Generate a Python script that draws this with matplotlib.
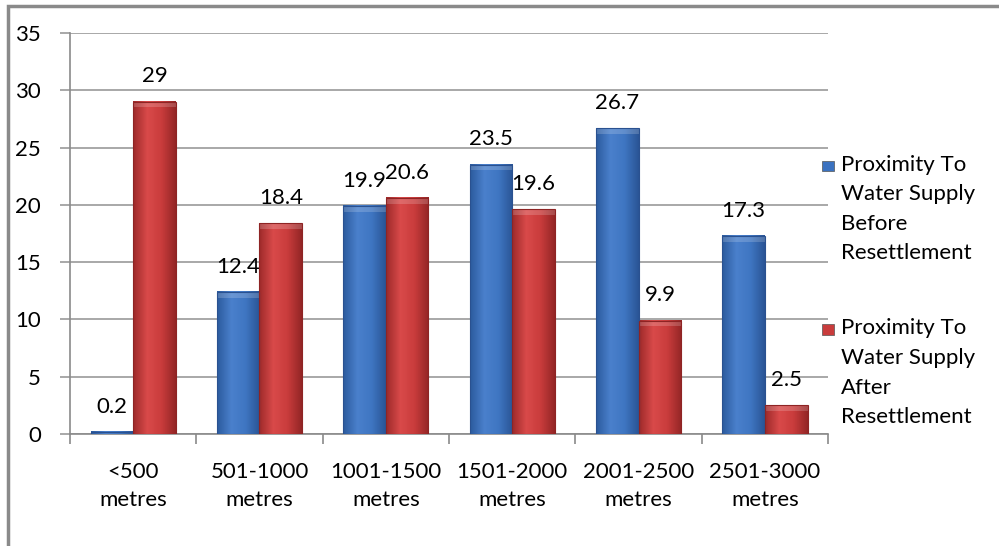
import numpy as np
import matplotlib.pyplot as plt
from matplotlib.colors import LinearSegmentedColormap
from matplotlib.patches import Rectangle

plt.rcParams['font.family'] = ['Lato', 'DejaVu Sans']

categories = ['<500\nmetres', '501-1000\nmetres', '1001-1500\nmetres',
              '1501-2000\nmetres', '2001-2500\nmetres', '2501-3000\nmetres']
before = [0.2, 12.4, 19.9, 23.5, 26.7, 17.3]
after = [29, 18.4, 20.6, 19.6, 9.9, 2.5]
series_names = ['Proximity To\nWater Supply\nBefore\nResettlement',
                'Proximity To\nWater Supply\nAfter\nResettlement']

blue_cmap = LinearSegmentedColormap.from_list('b', ['#2c5b9e', '#4a80cc', '#3f76c2', '#2a5596'])
red_cmap = LinearSegmentedColormap.from_list('r', ['#9e2a2a', '#d94a4a', '#c93c3c', '#942626'])
grad = np.linspace(0, 1, 64).reshape(1, -1)

fig = plt.figure(figsize=(9.99, 5.46), dpi=100)
ax = fig.add_axes([0.070, 0.205, 0.759, 0.7346])

width = 0.337
x = np.arange(len(categories))


def gradient_bar(xc, h, cmap, edge):
    x0, x1 = xc - width / 2, xc + width / 2
    ax.imshow(grad, extent=[x0, x1, 0, h], aspect='auto', cmap=cmap,
              interpolation='bilinear', zorder=3)
    # lighter bevel along the top of the bar
    bev = min(0.5, h * 0.3)
    ax.add_patch(Rectangle((x0, h - bev), width, bev, facecolor='white',
                           alpha=0.18, edgecolor='none', zorder=4))
    ax.add_patch(Rectangle((x0, 0), width, h, facecolor='none',
                           edgecolor=edge, linewidth=0.8, zorder=5))


for i in range(len(categories)):
    gradient_bar(x[i] - width / 2, before[i], blue_cmap, '#2a5190')
    gradient_bar(x[i] + width / 2, after[i], red_cmap, '#8e2424')
    ax.annotate(f'{before[i]:g}', (x[i] - width / 2, before[i]), xytext=(0, 11),
                textcoords='offset points', ha='center', va='bottom', fontsize=16)
    ax.annotate(f'{after[i]:g}', (x[i] + width / 2, after[i]), xytext=(0, 11),
                textcoords='offset points', ha='center', va='bottom', fontsize=16)

ax.set_xlim(-0.5, len(categories) - 0.5)
ax.set_ylim(0, 35)
ax.set_yticks(range(0, 36, 5))
ax.yaxis.grid(True, color='#9a9a9a', linewidth=1.2)
ax.set_axisbelow(True)

ax.set_xticks(x)
ax.set_xticklabels(categories, fontsize=16, linespacing=1.5)
ax.set_xticks(np.arange(-0.5, len(categories)), minor=True)
ax.tick_params(axis='x', which='major', length=0, pad=20)
ax.tick_params(axis='x', which='minor', length=7, color='#8a8a8a', width=1.2)
ax.tick_params(axis='y', length=7, color='#9a9a9a', width=1.2, pad=14, labelsize=16)

for s in ['top', 'right']:
    ax.spines[s].set_visible(False)
for s in ['left', 'bottom']:
    ax.spines[s].set_color('#8a8a8a')
    ax.spines[s].set_linewidth(1.2)

# legend drawn by hand so the marker sits beside the first line
legend_colors = ['#3b72c0', '#c93c3c']
legend_tops = [0.717, 0.417]
for name, col, top in zip(series_names, legend_colors, legend_tops):
    fig.add_artist(Rectangle((0.8225, top - 0.03), 0.012, 0.019,
                             transform=fig.transFigure, facecolor=col,
                             edgecolor='#555555', linewidth=0.5))
    fig.text(0.842, top, name, fontsize=16, va='top', ha='left', linespacing=1.6)

# outer frame of the chart area
fig.add_artist(Rectangle((0.008, -0.05), 1.05, 1.039, transform=fig.transFigure,
                         facecolor='none', edgecolor='#8a8a8a', linewidth=2.5))

fig.savefig('out.png', dpi=100)
